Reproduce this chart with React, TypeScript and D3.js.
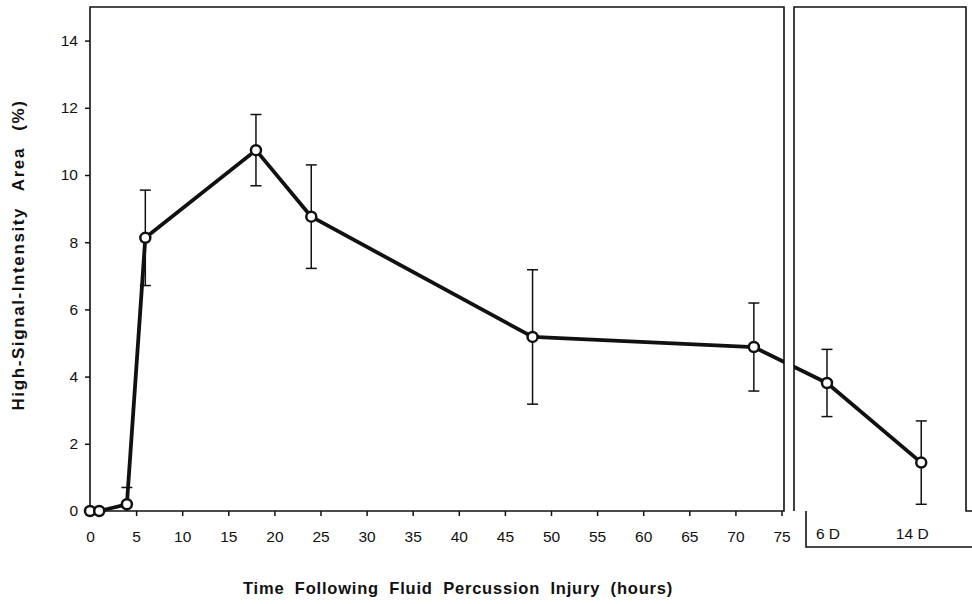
import React, { useEffect, useRef } from 'react';
import * as d3 from 'd3';

// early time points, in hours
const hours = [0, 1, 4, 6, 18, 24, 48, 72];
const hourMeans = [0, 0, 0.2, 8.13, 10.74, 8.76, 5.18, 4.88];
const hourErrors = [0, 0, 0.5, 1.42, 1.06, 1.54, 2.0, 1.31];

// late time points, in days
const days = [6, 14];
const dayMeans = [3.81, 1.44];
const dayErrors = [1.0, 1.24];
const dayLabels = ['6 D', '14 D'];

const yTicks = [0, 2, 4, 6, 8, 10, 12, 14];
const hourTicks = [0, 5, 10, 15, 20, 25, 30, 35, 40, 45, 50, 55, 60, 65, 70, 75];

const yTitle = 'High-Signal-Intensity Area (%)';
const xTitle = 'Time Following Fluid Percussion Injury (hours)';

const W = 972;
const H = 604;
const top = 7;
const bottom = 511;
const left = 90;
const breakL = 784;
const breakR = 794;
const right = 966;
const font = '"Liberation Sans", Arial, sans-serif';

function App() {
  const svgRef = useRef<SVGSVGElement>(null);

  useEffect(() => {
    const svg = d3.select(svgRef.current);
    svg.selectAll('*').remove();

    const y = d3.scaleLinear().domain([0, 15]).range([bottom, top]);
    const xh = d3.scaleLinear().domain([0, 75.2]).range([left, left + 75.2 * 9.22]);
    const xd = d3.scaleLinear().domain([3.2, 17.8]).range([breakR, right]);

    const pts = [
      ...hours.map((h, i) => ({ x: xh(h), m: hourMeans[i], e: hourErrors[i] })),
      ...days.map((d, i) => ({ x: xd(d), m: dayMeans[i], e: dayErrors[i] })),
    ];

    // y axis
    const yAxis = svg.append('g')
      .attr('transform', `translate(${left},0)`)
      .call(d3.axisLeft(y).tickValues(yTicks).tickSize(5).tickPadding(7));
    yAxis.select('.domain').remove();
    yAxis.selectAll('line').attr('stroke', '#111').attr('stroke-width', 1.5);
    yAxis.selectAll('text').attr('font-family', font).attr('font-size', 15.5).attr('fill', '#111');

    // x axis (hours)
    const xAxis = svg.append('g')
      .attr('transform', `translate(0,${bottom})`)
      .call(d3.axisBottom(xh).tickValues(hourTicks).tickSize(5).tickPadding(15));
    xAxis.select('.domain').remove();
    xAxis.selectAll('line').attr('stroke', '#111').attr('stroke-width', 1.5);
    xAxis.selectAll('text').attr('font-family', font).attr('font-size', 15.5).attr('fill', '#111');

    // day labels under the right panel
    svg.append('g')
      .selectAll('text')
      .data(days)
      .join('text')
      .attr('x', (d, i) => xd(d) + (i === 0 ? 1 : -9))
      .attr('y', bottom + 28)
      .attr('text-anchor', 'middle')
      .attr('font-family', font)
      .attr('font-size', 15.5)
      .attr('fill', '#111')
      .text((d, i) => dayLabels[i]);

    // data line
    svg.append('path')
      .datum(pts)
      .attr('fill', 'none')
      .attr('stroke', '#111')
      .attr('stroke-width', 3.8)
      .attr('stroke-linejoin', 'round')
      .attr('d', d3.line<any>().x(d => d.x).y(d => y(d.m)));

    // break gap
    svg.append('rect')
      .attr('x', breakL).attr('y', top)
      .attr('width', breakR - breakL).attr('height', bottom - top)
      .attr('fill', '#fff');

    // frames
    const frame = svg.append('g').attr('fill', 'none').attr('stroke', '#111').attr('stroke-width', 1.6);
    frame.append('path').attr('d', `M${breakL},${top}H${left}V${bottom}H${breakL}Z`);
    frame.append('path').attr('d', `M${breakR},${bottom}V${top}H${right}V${bottom}H${W}`);
    frame.append('path').attr('d', `M${breakR + 12},${bottom}V${bottom + 36}H${W}`);

    // error bars
    const eb = svg.append('g').attr('stroke', '#111').attr('stroke-width', 1.5);
    pts.filter(p => p.e > 0).forEach(p => {
      const y0 = y(Math.max(0, p.m - p.e));
      const y1 = y(p.m + p.e);
      eb.append('line').attr('x1', p.x).attr('x2', p.x).attr('y1', y0).attr('y2', y1);
      eb.append('line').attr('x1', p.x - 5.5).attr('x2', p.x + 5.5).attr('y1', y1).attr('y2', y1);
      if (p.m - p.e > 0) {
        eb.append('line').attr('x1', p.x - 5.5).attr('x2', p.x + 5.5).attr('y1', y0).attr('y2', y0);
      }
    });

    // markers
    svg.append('g')
      .selectAll('circle')
      .data(pts)
      .join('circle')
      .attr('cx', d => d.x)
      .attr('cy', d => y(d.m))
      .attr('r', 5)
      .attr('fill', '#fff')
      .attr('stroke', '#111')
      .attr('stroke-width', 2.5);

    // titles
    svg.append('text')
      .attr('transform', `translate(24,255) rotate(-90)`)
      .attr('text-anchor', 'middle')
      .attr('font-family', font)
      .attr('font-weight', 'bold')
      .attr('font-size', 17)
      .attr('letter-spacing', 1.6)
      .attr('word-spacing', 10)
      .attr('fill', '#111')
      .text(yTitle);

    svg.append('text')
      .attr('x', 458)
      .attr('y', 594)
      .attr('text-anchor', 'middle')
      .attr('font-family', font)
      .attr('font-weight', 'bold')
      .attr('font-size', 16.5)
      .attr('letter-spacing', 0.8)
      .attr('word-spacing', 5)
      .attr('fill', '#111')
      .text(xTitle);
  }, []);

  return (
    <svg
      ref={svgRef}
      width={W}
      height={H}
      style={{ position: 'absolute', left: 0, top: 0, background: '#fff' }}
    />
  );
}

export default App;
